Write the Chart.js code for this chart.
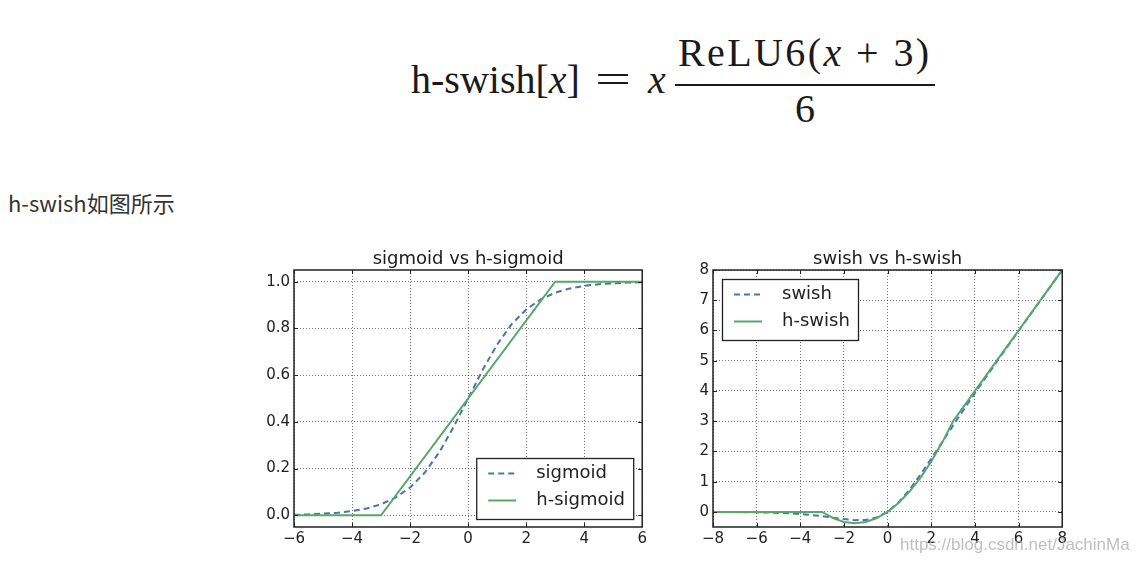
<!doctype html>
<html lang="zh">

<head>
    <meta charset="utf-8">
    <style>
        html,
        body {
            margin: 0;
            padding: 0;
            width: 1136px;
            height: 565px;
            background: #fff;
            overflow: hidden;
        }

        .abs {
            position: absolute;
            white-space: nowrap;
        }

        .tex {
            font-family: "Liberation Serif", serif;
            font-size: 40px;
            line-height: 40px;
            color: #1a1a1a;
        }

        #caption {
            left: 8px;
            top: 191px;
            font-family: "Noto Sans CJK SC", "Noto Sans", sans-serif;
            font-size: 22px;
            line-height: 22px;
            color: #333;
        }

        #watermark {
            left: 900px;
            top: 535px;
            font-family: "Liberation Sans", sans-serif;
            font-size: 17px;
            line-height: 20px;
            color: rgba(170, 170, 170, 0.75);
        }
    </style>
</head>

<body>
    <!-- formel -->
    <div class="abs tex" style="left:411px; top:60px;">h-swish[<i>x</i>]</div>
    <div class="abs tex" style="left:595px; top:60px; transform: scaleX(1.6); transform-origin: left;">=</div>
    <div class="abs tex" style="left:648px; top:60px;"><i>x</i></div>
    <div class="abs tex" style="left:678px; top:33px; letter-spacing: 2.4px;">ReLU6(<i>x</i> + 3)</div>
    <div class="abs" style="left:675px; top:84px; width:260px; height:2px; background:#1a1a1a;"></div>
    <div class="abs tex" style="left:795px; top:89px;">6</div>

    <div id="caption" class="abs">h-swish如图所示</div>

    <canvas id="chartLeft" class="abs" width="400" height="305" style="left:250px; top:242px;"></canvas>
    <canvas id="chartRight" class="abs" width="400" height="305" style="left:670px; top:242px;"></canvas>

    <div id="watermark" class="abs">https://blog.csdn.net/JachinMa</div>

    <script src="https://cdn.jsdelivr.net/npm/chart.js@4.4.1/dist/chart.umd.min.js"></script>
    <script>
        // Werte
        const sigX = [-6, -5.5, -5, -4.5, -4, -3.5, -3, -2.5, -2, -1.5, -1, -0.5, 0, 0.5, 1, 1.5, 2, 2.5, 3, 3.5, 4, 4.5, 5, 5.5, 6];
        const sigmoidY = [0.002, 0.004, 0.007, 0.011, 0.018, 0.029, 0.047, 0.076, 0.119, 0.182, 0.269, 0.378, 0.5, 0.622, 0.731, 0.818, 0.881, 0.924, 0.953, 0.971, 0.982, 0.989, 0.993, 0.996, 0.998];
        const hSigX = [-6, -3, 3, 6];
        const hSigmoidY = [0, 0, 1, 1];

        const swishX = [-8, -7.5, -7, -6.5, -6, -5.5, -5, -4.5, -4, -3.5, -3, -2.5, -2, -1.5, -1, -0.5, 0, 0.5, 1, 1.5, 2, 2.5, 3, 3.5, 4, 4.5, 5, 5.5, 6, 6.5, 7, 7.5, 8];
        const swishY = [-0.003, -0.004, -0.006, -0.01, -0.015, -0.022, -0.034, -0.05, -0.072, -0.103, -0.142, -0.19, -0.238, -0.274, -0.269, -0.189, 0, 0.311, 0.731, 1.226, 1.762, 2.31, 2.858, 3.397, 3.928, 4.45, 4.967, 5.478, 5.985, 6.49, 6.994, 7.496, 7.997];
        const hSwishY = [0, 0, 0, 0, 0, 0, 0, 0, 0, 0, 0, -0.208, -0.333, -0.375, -0.333, -0.208, 0, 0.292, 0.667, 1.125, 1.667, 2.292, 3, 3.5, 4, 4.5, 5, 5.5, 6, 6.5, 7, 7.5, 8];

        const leftXTicks = [-6, -4, -2, 0, 2, 4, 6];
        const leftYTicks = [0, 0.2, 0.4, 0.6, 0.8, 1.0];
        const rightXTicks = [-8, -6, -4, -2, 0, 2, 4, 6, 8];
        const rightYTicks = [0, 1, 2, 3, 4, 5, 6, 7, 8];

        const BLUE = '#4c72b0';
        const GREEN = '#55a868';

        Chart.defaults.font.family = '"DejaVu Sans", sans-serif';
        Chart.defaults.color = '#222';

        const toPoints = (xs, ys) => xs.map((x, i) => ({ x: x, y: ys[i] }));
        const minus = v => String(v).replace('-', '\u2212');

        // Rahmen, Ticks nach innen und Legende wie bei matplotlib
        const framePlugin = {
            id: 'frame',
            afterDatasetsDraw(chart, args, opts) {
                const { ctx, chartArea: a, scales: { x, y } } = chart;
                ctx.save();

                ctx.strokeStyle = '#222';
                ctx.lineWidth = 1;
                ctx.setLineDash([]);
                ctx.beginPath();
                x.ticks.forEach(t => {
                    const px = Math.round(x.getPixelForValue(t.value)) + 0.5;
                    ctx.moveTo(px, a.bottom); ctx.lineTo(px, a.bottom - 4);
                    ctx.moveTo(px, a.top); ctx.lineTo(px, a.top + 4);
                });
                y.ticks.forEach(t => {
                    const py = Math.round(y.getPixelForValue(t.value)) + 0.5;
                    ctx.moveTo(a.left, py); ctx.lineTo(a.left + 4, py);
                    ctx.moveTo(a.right, py); ctx.lineTo(a.right - 4, py);
                });
                ctx.stroke();

                ctx.lineWidth = 1.5;
                ctx.strokeRect(a.left, a.top, a.width, a.height);

                // Legende
                const ds = chart.data.datasets;
                ctx.font = '18px "DejaVu Sans", sans-serif';
                const tw = Math.max(...ds.map(d => ctx.measureText(d.label).width));
                const w = Math.round(60 + tw + 8), h = 61;
                let bx, by;
                if (opts.corner === 'br') {
                    bx = a.right - opts.inset - w;
                    by = a.bottom - 8 - h;
                } else {
                    bx = a.left + opts.inset;
                    by = a.top + opts.inset;
                }
                ctx.fillStyle = '#fff';
                ctx.fillRect(bx, by, w, h);
                ctx.lineWidth = 1.3;
                ctx.strokeStyle = '#222';
                ctx.strokeRect(bx + 0.5, by + 0.5, w, h);

                ds.forEach((d, i) => {
                    const cy = by + 15.5 + i * 27;
                    ctx.strokeStyle = d.borderColor;
                    ctx.lineWidth = d.borderWidth;
                    ctx.setLineDash(d.borderDash || []);
                    ctx.beginPath();
                    ctx.moveTo(bx + 12, cy);
                    ctx.lineTo(bx + 40, cy);
                    ctx.stroke();
                    ctx.setLineDash([]);
                    ctx.fillStyle = '#222';
                    ctx.textBaseline = 'middle';
                    ctx.fillText(d.label, bx + 60, cy);
                });

                ctx.restore();
            }
        };

        function makeChart(id, cfg) {
            return new Chart(document.getElementById(id), {
                type: 'line',
                data: {
                    datasets: [{
                        label: cfg.labels[0],
                        data: cfg.data[0],
                        borderColor: BLUE,
                        borderWidth: 2,
                        borderDash: [6, 4],
                        pointRadius: 0,
                        tension: 0,
                        order: 1
                    }, {
                        label: cfg.labels[1],
                        data: cfg.data[1],
                        borderColor: GREEN,
                        borderWidth: 2,
                        pointRadius: 0,
                        tension: 0,
                        order: 0
                    }]
                },
                options: {
                    responsive: false,
                    animation: false,
                    layout: { padding: { left: 0, right: 7, top: 0, bottom: 0 } },
                    plugins: {
                        legend: { display: false },
                        tooltip: { enabled: false },
                        title: {
                            display: true,
                            fullSize: false,
                            text: cfg.title,
                            font: { size: 18, weight: 'normal' },
                            color: '#1a1a1a',
                            padding: { top: 6.4, bottom: 0 }
                        },
                        frame: { corner: cfg.corner, inset: 9 }
                    },
                    scales: {
                        x: {
                            type: 'linear',
                            min: cfg.xRange[0],
                            max: cfg.xRange[1],
                            afterBuildTicks: s => { s.ticks = cfg.xTicks.map(v => ({ value: v })); },
                            afterFit: s => { s.height = 20; },
                            ticks: { font: { size: 15 }, padding: 3, maxRotation: 0, callback: v => minus(v) },
                            grid: { color: 'rgba(0,0,0,0.55)', lineWidth: 1, drawTicks: false },
                            border: { display: false, dash: [1, 2] }
                        },
                        y: {
                            min: cfg.yRange[0],
                            max: cfg.yRange[1],
                            afterBuildTicks: s => { s.ticks = cfg.yTicks.map(v => ({ value: v })); },
                            afterFit: s => { s.width = cfg.yWidth; },
                            ticks: { font: { size: 15 }, padding: 4, callback: cfg.yFmt },
                            grid: { color: 'rgba(0,0,0,0.55)', lineWidth: 1, drawTicks: false },
                            border: { display: false, dash: [1, 2] }
                        }
                    }
                },
                plugins: [framePlugin]
            });
        }

        makeChart('chartLeft', {
            title: 'sigmoid vs h-sigmoid',
            labels: ['sigmoid', 'h-sigmoid'],
            data: [toPoints(sigX, sigmoidY), toPoints(hSigX, hSigmoidY)],
            xRange: [-6, 6],
            yRange: [-0.05, 1.05],
            xTicks: leftXTicks,
            yTicks: leftYTicks,
            yWidth: 44,
            yFmt: v => v.toFixed(1),
            corner: 'br'
        });

        makeChart('chartRight', {
            title: 'swish vs h-swish',
            labels: ['swish', 'h-swish'],
            data: [toPoints(swishX, swishY), toPoints(swishX, hSwishY)],
            xRange: [-8, 8],
            yRange: [-0.5, 8],
            xTicks: rightXTicks,
            yTicks: rightYTicks,
            yWidth: 43,
            yFmt: v => String(v),
            corner: 'tl'
        });
    </script>
</body>

</html>
